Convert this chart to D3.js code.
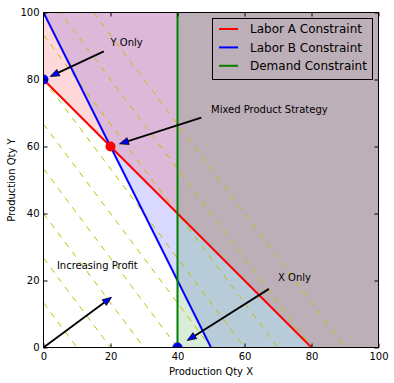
<!DOCTYPE html>
<html>
<head>
<meta charset="utf-8">
<script src="https://cdn.jsdelivr.net/npm/d3@7"></script>
<style>
  body { margin: 0; background: #fff; }
  text { font-family: "DejaVu Sans", sans-serif; fill: #000; }
  .tick text { font-size: 10px; }
  .axis path { display: none; }
</style>
</head>
<body>
<svg id="vis" width="394" height="383"></svg>
<script>
// ticks
var xTicks = [0, 20, 40, 60, 80, 100];
var yTicks = [0, 20, 40, 60, 80, 100];

// constraint lines (data coords, endpoints)
var laborAX = [0, 100], laborAY = [80, -20];     // x + y = 80
var laborBX = [0, 100], laborBY = [100, -100];   // 2x + y = 100
var demandX = [40, 40], demandY = [0, 100];      // x = 40
var legendNames = ["Labor A Constraint", "Labor B Constraint", "Demand Constraint"];

// shaded (infeasible) regions
var laborARegion = [[0, 80], [80, 0], [100, 0], [100, 100], [0, 100]];
var laborBRegion = [[0, 100], [50, 0], [100, 0], [100, 100]];
var demandRegion = [[40, 0], [100, 0], [100, 100], [40, 100]];

// iso-profit lines 40x + 30y = k
var profitX = 40, profitY = 30;
var profitLevels = [400, 800, 1200, 1600, 2000, 2400, 2800, 3200, 3600];

// corner points
var cornerX = [0, 40, 20];
var cornerY = [80, 0, 60];
var cornerKind = ["b", "b", "r"];

// annotations: text position, arrow tail, arrow tip
var annLabels = ["Y Only", "Mixed Product Strategy", "Increasing Profit", "X Only"];
var annTextX = [20, 50, 4, 70];
var annTextY = [90, 70, 23.5, 20];
var annFromX = [18, 47.1, 0, 67.3];
var annFromY = [88.4, 68.6, 0, 17.5];
var annToX = [2, 22.7, 20.3, 42.9];
var annToY = [80.9, 60.8, 15, 2.1];

var COLORS = { r: "#ff0000", b: "#0000ff", g: "#008000", y: "#bfbf00" };

var margin = { top: 12.5, left: 43.5 },
    W = 335, H = 335;

var svg = d3.select("#vis");
var g = svg.append("g").attr("transform", "translate(" + margin.left + "," + margin.top + ")");

var x = d3.scaleLinear().domain([0, 100]).range([0, W]);
var y = d3.scaleLinear().domain([0, 100]).range([H, 0]);

svg.append("defs").append("clipPath").attr("id", "plotclip")
   .append("rect").attr("x", 0).attr("y", 0).attr("width", W).attr("height", H);

var plot = g.append("g").attr("clip-path", "url(#plotclip)");

var poly = d3.line().x(d => x(d[0])).y(d => y(d[1]));

// shaded regions
[[laborBRegion, COLORS.b], [laborARegion, COLORS.r], [demandRegion, COLORS.g]].forEach(function(r) {
	plot.append("path")
	    .attr("d", poly(r[0]) + "Z")
	    .attr("fill", r[1])
	    .attr("fill-opacity", 0.15);
});

// iso-profit lines
plot.selectAll("line.profit")
    .data(profitLevels)
    .enter()
    .append("line")
    .attr("class", "profit")
    .attr("x1", x(0))
    .attr("y1", d => y(d / profitY))
    .attr("x2", x(100))
    .attr("y2", d => y((d - profitX * 100) / profitY))
    .attr("stroke", COLORS.y)
    .attr("stroke-width", 1)
    .attr("stroke-dasharray", "6,6");

// constraint lines
var lines = [[laborAX, laborAY, COLORS.r], [laborBX, laborBY, COLORS.b], [demandX, demandY, COLORS.g]];
lines.forEach(function(l) {
	plot.append("line")
	    .attr("x1", x(l[0][0])).attr("y1", y(l[1][0]))
	    .attr("x2", x(l[0][1])).attr("y2", y(l[1][1]))
	    .attr("stroke", l[2])
	    .attr("stroke-width", 2);
});

// corner points
plot.selectAll("circle")
    .data(cornerX)
    .enter()
    .append("circle")
    .attr("cx", d => x(d))
    .attr("cy", (d, i) => y(cornerY[i]))
    .attr("r", 5)
    .attr("fill", (d, i) => COLORS[cornerKind[i]]);

// frame
g.append("rect")
 .attr("width", W).attr("height", H)
 .attr("fill", "none").attr("stroke", "#000").attr("stroke-width", 1);

// axes (ticks inside, on all four sides)
g.append("g").attr("class", "axis").attr("transform", "translate(0," + H + ")")
 .call(d3.axisBottom(x).tickValues(xTicks).tickSizeInner(-4).tickSizeOuter(0).tickPadding(5));
g.append("g").attr("class", "axis")
 .call(d3.axisLeft(y).tickValues(yTicks).tickSizeInner(-4).tickSizeOuter(0).tickPadding(4));
g.append("g").attr("class", "axis")
 .call(d3.axisTop(x).tickValues(xTicks).tickSizeInner(-4).tickSizeOuter(0).tickFormat(""));
g.append("g").attr("class", "axis").attr("transform", "translate(" + W + ",0)")
 .call(d3.axisRight(y).tickValues(yTicks).tickSizeInner(-4).tickSizeOuter(0).tickFormat(""));
g.selectAll(".axis .tick line").attr("stroke", "#000");
g.selectAll(".axis .tick text").attr("fill", "#000");

// axis labels
g.append("text")
 .attr("x", W / 2).attr("y", H + 27)
 .attr("text-anchor", "middle")
 .attr("font-size", 10)
 .text("Production Qty X");
g.append("text")
 .attr("transform", "translate(" + (-28.5) + "," + (H / 2) + ") rotate(-90)")
 .attr("text-anchor", "middle")
 .attr("font-size", 10)
 .text("Production Qty Y");

// annotations
annLabels.forEach(function(label, i) {
	g.append("text")
	 .attr("x", x(annTextX[i])).attr("y", y(annTextY[i]))
	 .attr("font-size", 10)
	 .text(label);

	var x0 = x(annFromX[i]), y0 = y(annFromY[i]),
	    x1 = x(annToX[i]), y1 = y(annToY[i]);
	var dx = x1 - x0, dy = y1 - y0, len = Math.sqrt(dx * dx + dy * dy);
	var ux = dx / len, uy = dy / len;
	var hl = 9, hw = 3.5;
	var bx = x1 - ux * hl, by = y1 - uy * hl;
	g.append("line")
	 .attr("x1", x0).attr("y1", y0).attr("x2", bx).attr("y2", by)
	 .attr("stroke", "#000").attr("stroke-width", 1.8);
	g.append("path")
	 .attr("d", "M" + x1 + "," + y1 +
	            "L" + (bx - uy * hw) + "," + (by + ux * hw) +
	            "L" + (bx + uy * hw) + "," + (by - ux * hw) + "Z")
	 .attr("fill", COLORS.b)
	 .attr("stroke", "#000")
	 .attr("stroke-width", 0.8);
});

// legend
var legend = g.append("g").attr("transform", "translate(" + (212.5 - margin.left) + "," + (18.5 - margin.top) + ")");
legend.append("rect")
      .attr("width", 160).attr("height", 61)
      .attr("fill", "none").attr("stroke", "#000").attr("stroke-width", 1);
var rows = legend.selectAll("g.row")
      .data(legendNames)
      .enter()
      .append("g")
      .attr("class", "row")
      .attr("transform", (d, i) => "translate(0," + (10.5 + i * 18.4) + ")");
rows.append("line")
    .attr("x1", 6.5).attr("x2", 25.5)
    .attr("stroke", (d, i) => lines[i][2])
    .attr("stroke-width", 2);
rows.append("text")
    .attr("x", 37.5).attr("dy", "0.35em")
    .attr("font-size", 12)
    .text(d => d);
</script>
</body>
</html>
